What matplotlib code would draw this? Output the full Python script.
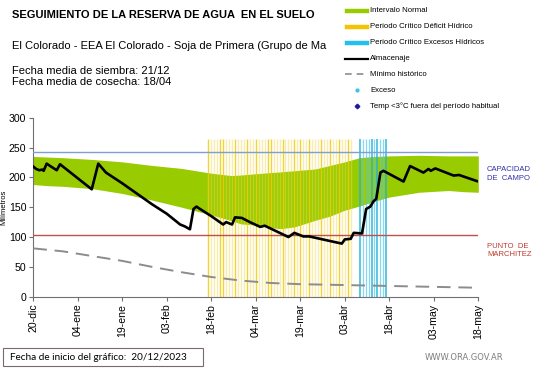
import matplotlib
matplotlib.use("Agg")
import matplotlib.pyplot as plt
from matplotlib.lines import Line2D
from matplotlib.patches import Rectangle

plt.rcParams["font.family"] = ["Liberation Sans", "DejaVu Sans"]

# days counted from 20-dic-2023
tick_days = [0, 15, 30, 45, 60, 75, 90, 105, 120, 135, 150]
tick_labels = ["20-dic", "04-ene", "19-ene", "03-feb", "18-feb", "04-mar",
               "19-mar", "03-abr", "18-abr", "03-may", "18-may"]

band_days = [0, 5, 10, 20, 30, 40, 50, 60, 65, 67, 70, 75, 80, 83, 85, 88, 90,
             95, 100, 105, 110, 115, 120, 130, 140, 145, 150]
band_upper = [235, 234, 233, 230, 226, 220, 215, 207, 204, 203, 204, 206, 208,
              209, 210, 211, 212, 214, 220, 226, 233, 235, 236, 237, 236, 236, 236]
band_lower = [188, 186, 185, 181, 173, 162, 150, 137, 130, 127, 122, 120, 116,
              114, 115, 117, 120, 128, 135, 145, 152, 160, 167, 175, 178, 176, 175]

alm_days = [0, 1, 2, 3, 3.5, 4.5, 6, 7.9, 9, 19.7, 21.9, 24.5, 30, 40, 45, 49.5,
            51, 52.8, 54, 55, 56.2, 60, 64, 65, 67, 68, 70.3, 73, 76.5, 78, 86,
            88, 91, 93, 104, 105, 107, 108, 110.8, 112.2, 113.6, 114.7, 115.6,
            117, 118, 124.8, 127, 131.5, 133.2, 134, 135.5, 141.7, 143.5, 150]
alm_vals = [218, 214, 212, 213, 211, 223, 218, 212, 222, 180, 223, 208, 190, 155,
            139, 121, 118, 113, 147, 151, 147, 135, 121, 125, 121, 133, 132, 125,
            117, 119, 100, 107, 101, 101, 89, 96, 97, 107, 106, 147, 151, 160,
            164, 208, 211, 193, 219, 208, 214, 211, 215, 203, 204, 193]

min_days = [0, 10, 20, 30, 40, 50, 60, 70, 80, 90, 100, 110, 120, 130, 140, 150]
min_vals = [81, 76, 68, 60, 50, 41, 33, 27, 23, 21, 20, 19, 18, 17, 16, 15]

capacidad = 243
marchitez = 103
bar_top = 265

deficit_days = list(range(59, 108))
deficit_strong = [59, 63, 64, 68, 72, 75, 79, 80, 84, 88, 90, 93, 97, 100, 103, 106]
exceso_days = list(range(110, 120))
exceso_strong = [110, 114, 116, 119]

W, H = 541, 368


def fx(x):
    return x / W


def fy(y):
    return 1 - y / H


fig = plt.figure(figsize=(W / 100, H / 100), dpi=100)
ax = fig.add_axes([fx(33.3), fy(296.7), fx(478.3) - fx(33.3), fy(117.7) - fy(296.7)])

ax.fill_between(band_days, band_lower, band_upper, color="#99cc00", lw=0, zorder=1)

for d in deficit_days:
    if d in deficit_strong:
        ax.vlines(d, 0, bar_top, color="#f0cc10", lw=1.0, alpha=0.85, zorder=2)
    else:
        ax.vlines(d, 0, bar_top, color="#f2d84a", lw=1.0, alpha=0.45, zorder=2)
for d in exceso_days:
    if d in exceso_strong:
        ax.vlines(d, 0, bar_top, color="#22b4dc", lw=1.1, alpha=0.95, zorder=2)
    else:
        ax.vlines(d, 0, bar_top, color="#55c8ec", lw=0.9, alpha=0.7, zorder=2)

ax.axhline(capacidad, color="#7f9fd2", lw=1.0, zorder=3)
ax.axhline(marchitez, color="#c0504d", lw=1.0, zorder=3)
ax.plot(min_days, min_vals, color="#8c8c8c", lw=1.4, dashes=(7, 4), zorder=3)
ax.plot(alm_days, alm_vals, color="black", lw=1.9, zorder=4,
        solid_joinstyle="round")

ax.set_xlim(0, 150)
ax.set_ylim(0, 300)
ax.set_yticks(range(0, 301, 50))
ax.set_xticks(tick_days)
ax.set_xticklabels(tick_labels, rotation=90, fontsize=7.6)
ax.tick_params(axis="y", labelsize=7.6, length=3, color="#707070", pad=2)
ax.tick_params(axis="x", length=3, color="#707070", pad=2)
for side in ["top", "right"]:
    ax.spines[side].set_visible(False)
for side in ["left", "bottom"]:
    ax.spines[side].set_color("#707070")
ax.set_ylabel("Milímetros", fontsize=5.5, labelpad=1)

# texts
fig.text(fx(12), fy(15), "SEGUIMIENTO DE LA RESERVA DE AGUA  EN EL SUELO",
         fontsize=8, fontweight="bold", va="center")
fig.text(fx(12), fy(46), "El Colorado - EEA El Colorado - Soja de Primera (Grupo de Ma",
         fontsize=8, va="center")
fig.text(fx(12), fy(71), "Fecha media de siembra: 21/12", fontsize=8, va="center")
fig.text(fx(12), fy(82), "Fecha media de cosecha: 18/04", fontsize=8, va="center")

fig.text(fx(487), fy(170), "CAPACIDAD", fontsize=5.5, color="#3030a8", va="center")
fig.text(fx(487), fy(179), "DE  CAMPO", fontsize=5.5, color="#3030a8", va="center")
fig.text(fx(487), fy(246), "PUNTO  DE", fontsize=5.5, color="#c0392b", va="center")
fig.text(fx(487), fy(255), "MARCHITEZ", fontsize=5.5, color="#c0392b", va="center")

# legend
legend_rows = [
    ("Intervalo Normal", "bar", "#99cc00", 11),
    ("Periodo Crítico Déficit Hídrico", "bar", "#f5c400", 26.7),
    ("Periodo Crítico Excesos Hídricos", "bar", "#22c0ea", 42.7),
    ("Almacenaje", "line", "black", 58.5),
    ("Mínimo histórico", "dash", "#8c8c8c", 74),
    ("Exceso", "dot", "#33c6e6", 90),
    ("Temp <3°C fuera del período habitual", "diamond", "#1a1aa8", 106),
]
for label, kind, color, y in legend_rows:
    if kind == "bar":
        fig.add_artist(Line2D([fx(347), fx(367)], [fy(y), fy(y)], color=color, lw=3.2))
    elif kind == "line":
        fig.add_artist(Line2D([fx(345), fx(368)], [fy(y), fy(y)], color=color, lw=1.6))
    elif kind == "dash":
        fig.add_artist(Line2D([fx(345), fx(368)], [fy(y), fy(y)], color=color, lw=1.2,
                              dashes=(4, 3)))
    elif kind == "dot":
        fig.add_artist(Line2D([fx(357)], [fy(y)], color=color, marker="o", ms=2, lw=0))
    else:
        fig.add_artist(Line2D([fx(357)], [fy(y)], color=color, marker="D", ms=2.3, lw=0))
    fig.text(fx(370), fy(y), label, fontsize=5.6, va="center")

# footer
fig.add_artist(Rectangle((fx(3), fy(366)), fx(203) - fx(3), fy(348) - fy(366),
                         fill=False, edgecolor="#7a6a6a", lw=0.8))
fig.text(fx(10), fy(357), "Fecha de inicio del gráfico:  20/12/2023", fontsize=7.2,
         family=["Lato", "DejaVu Sans"], va="center")
fig.text(fx(425), fy(358), "WWW.ORA.GOV.AR", fontsize=6.0, color="#7f7f7f",
         family=["DejaVu Sans"], va="center")

fig.savefig("out.png", dpi=100)
